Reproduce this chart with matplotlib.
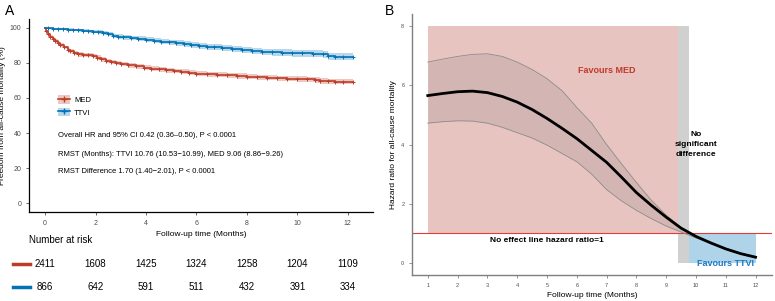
import numpy as np
import matplotlib
matplotlib.use("Agg")
import matplotlib.pyplot as plt
from matplotlib.lines import Line2D
from matplotlib.patches import Patch
from matplotlib.legend_handler import HandlerTuple
import matplotlib.transforms as mtransforms

plt.rcParams['font.family'] = ['Liberation Sans', 'DejaVu Sans']

# ---- Panel A: Kaplan-Meier data ----
red_t = [0, 0.05, 0.1, 0.2, 0.3, 0.4, 0.5, 0.6, 0.75, 0.9,
         1.0, 1.15, 1.3, 1.5, 1.7, 1.9, 2.05, 2.2, 2.4, 2.6,
         2.8, 3.0, 3.3, 3.6, 3.9, 4.2, 4.5, 4.8, 5.1, 5.4,
         5.7, 6.0, 6.4, 6.8, 7.2, 7.6, 8.0, 8.4, 8.8, 9.2,
         9.6, 10.0, 10.4, 10.7, 10.9, 11.2, 11.5, 11.8, 12.2]
red_s = [100, 98.0, 96.5, 95.0, 93.8, 92.6, 91.5, 90.2, 88.8, 87.5,
         86.6, 85.5, 84.8, 84.5, 84.4, 84.0, 83.0, 82.0, 81.2, 80.5,
         79.9, 79.3, 78.6, 78.0, 77.3, 76.8, 76.3, 75.9, 75.4, 74.9,
         74.4, 73.9, 73.5, 73.2, 72.9, 72.6, 72.2, 71.8, 71.5, 71.3,
         71.1, 70.8, 70.6, 70.1, 69.6, 69.4, 69.3, 69.3, 69.3]
red_ci = [0, 0.4, 0.6, 0.8, 0.9, 1.0, 1.0, 1.1, 1.1, 1.2,
          1.2, 1.2, 1.2, 1.2, 1.2, 1.2, 1.3, 1.3, 1.3, 1.3,
          1.3, 1.3, 1.3, 1.3, 1.3, 1.4, 1.4, 1.4, 1.4, 1.4,
          1.4, 1.4, 1.4, 1.5, 1.5, 1.5, 1.5, 1.5, 1.5, 1.5,
          1.5, 1.5, 1.6, 1.6, 1.6, 1.6, 1.6, 1.6, 1.6]

blue_t = [0, 0.1, 0.3, 0.5, 0.7, 0.9, 1.1, 1.3, 1.5, 1.7,
          1.9, 2.1, 2.3, 2.5, 2.7, 2.9, 3.1, 3.4, 3.7, 4.0,
          4.3, 4.6, 4.9, 5.2, 5.5, 5.8, 6.1, 6.4, 6.7, 7.0,
          7.4, 7.8, 8.2, 8.6, 9.0, 9.4, 9.8, 10.2, 10.6, 11.0,
          11.2, 11.5, 11.8, 12.2]
blue_s = [100, 99.8, 99.5, 99.3, 99.1, 99.0, 98.8, 98.6, 98.4, 98.1,
          97.8, 97.5, 97.0, 96.3, 95.5, 95.0, 94.6, 94.2, 93.7, 93.1,
          92.6, 92.2, 91.7, 91.2, 90.7, 90.2, 89.6, 89.2, 88.8, 88.4,
          87.8, 87.2, 86.7, 86.3, 86.0, 85.8, 85.6, 85.4, 85.2, 84.8,
          83.8, 83.6, 83.6, 83.6]
blue_ci = [0, 0.2, 0.4, 0.5, 0.6, 0.7, 0.8, 0.8, 0.9, 0.9,
           1.0, 1.0, 1.1, 1.1, 1.2, 1.2, 1.3, 1.3, 1.4, 1.4,
           1.5, 1.5, 1.5, 1.6, 1.6, 1.6, 1.7, 1.7, 1.7, 1.8,
           1.8, 1.8, 1.9, 1.9, 1.9, 2.0, 2.0, 2.0, 2.1, 2.1,
           2.1, 2.2, 2.2, 2.2]

risk_times = [0, 2, 4, 6, 8, 10, 12]
risk_med = [2411, 1608, 1425, 1324, 1258, 1204, 1109]
risk_ttvi = [866, 642, 591, 511, 432, 391, 334]

# ---- Panel B: hazard ratio over time ----
hr_x = [1.0, 1.5, 2.0, 2.5, 3.0, 3.5, 4.0, 4.5, 5.0, 5.5, 6.0, 6.5,
        7.0, 7.5, 8.0, 8.5, 9.0, 9.5, 10.0, 10.5, 11.0, 11.5, 12.0]
hr_y = [5.65, 5.72, 5.78, 5.80, 5.75, 5.62, 5.43, 5.18, 4.88, 4.55, 4.20, 3.80,
        3.40, 2.90, 2.38, 1.95, 1.55, 1.18, 0.90, 0.68, 0.48, 0.32, 0.20]
hr_hi = [6.78, 6.88, 6.97, 7.04, 7.06, 6.97, 6.78, 6.53, 6.22, 5.82, 5.25, 4.72,
         4.00, 3.35, 2.72, 2.12, 1.62, 1.20, 0.92, 0.70, 0.50, 0.34, 0.22]
hr_lo = [4.72, 4.77, 4.80, 4.79, 4.72, 4.58, 4.40, 4.22, 3.98, 3.70, 3.42, 3.00,
         2.48, 2.10, 1.78, 1.50, 1.25, 1.05, 0.85, 0.66, 0.46, 0.30, 0.18]

RED = '#BC3C29'
BLUE = '#0072B5'
GREY_TXT = '#4D4D4D'

fig = plt.figure(figsize=(7.75, 3.01), dpi=100)

# Panel A
axA = fig.add_axes([0.0374, 0.2957, 0.444, 0.641])
for t, s, ci, col in [(red_t, red_s, red_ci, RED), (blue_t, blue_s, blue_ci, BLUE)]:
    t = np.array(t); s = np.array(s); ci = np.array(ci)
    axA.fill_between(t, s - ci, s + ci, step='post', color=col, alpha=0.28, lw=0)
    axA.step(t, s, where='post', color=col, lw=1.2)
    axA.plot(t[1:], s[1:], ls='none', marker='+', color=col, ms=3, mew=0.7)

axA.set_xlim(-0.64, 13.0)
axA.set_ylim(-5, 105)
axA.set_xticks(risk_times)
axA.set_yticks([0, 20, 40, 60, 80, 100])
axA.tick_params(labelsize=5, colors=GREY_TXT, length=2, width=0.6, labelcolor=GREY_TXT)
for sp in ['top', 'right']:
    axA.spines[sp].set_visible(False)
for sp in ['left', 'bottom']:
    axA.spines[sp].set_linewidth(0.9)
axA.set_xlabel('Follow-up time (Months)', fontsize=6, labelpad=3)
axA.set_ylabel('Freedom from all-cause mortality (%)', fontsize=6, labelpad=3)

h_med = (Patch(color=RED, alpha=0.28, lw=0), Line2D([], [], color=RED, marker='+', lw=1.2, ms=4))
h_ttvi = (Patch(color=BLUE, alpha=0.28, lw=0), Line2D([], [], color=BLUE, marker='+', lw=1.2, ms=4))
axA.legend([h_med, h_ttvi], ['MED', 'TTVI'], handler_map={tuple: HandlerTuple(ndivide=1, pad=0)},
           loc='upper left', bbox_to_anchor=(0.065, 0.64), frameon=False, fontsize=5.5,
           handlelength=1.6, handleheight=1.3, labelspacing=0.5, handletextpad=0.5)

ann_x = 0.0855
axA.text(ann_x, 0.398, 'Overall HR and 95% CI 0.42 (0.36\u20130.50), P < 0.0001',
         transform=axA.transAxes, fontsize=5.5, va='center')
axA.text(ann_x, 0.300, 'RMST (Months): TTVI 10.76 (10.53\u221210.99), MED 9.06 (8.86\u22129.26)',
         transform=axA.transAxes, fontsize=5.5, va='center')
axA.text(ann_x, 0.212, 'RMST Difference 1.70 (1.40\u22122.01), P < 0.0001',
         transform=axA.transAxes, fontsize=5.5, va='center')

# Number at risk table
trans = mtransforms.blended_transform_factory(axA.transData, fig.transFigure)
fig.text(0.0374, 0.203, 'Number at risk', fontsize=7, va='center')
for vals, yy, col in [(risk_med, 0.123, RED), (risk_ttvi, 0.0465, BLUE)]:
    for tt, v in zip(risk_times, vals):
        fig.text(tt, yy, str(v), transform=trans, fontsize=7, ha='center', va='center')
    fig.add_artist(Line2D([13 / 775, 30 / 775], [yy, yy], color=col, lw=2.5,
                          transform=fig.transFigure))

fig.text(0.013, 0.963, 'A', fontsize=10, ha='center', va='center')
fig.text(0.502, 0.963, 'B', fontsize=10, ha='center', va='center')

# Panel B
axB = fig.add_axes([0.5316, 0.0864, 0.4645, 0.867])
axB.fill_between([1, 9.4], 1, 8, color='#E8C4C0', lw=0)
axB.fill_between([9.4, 9.75], 0, 8, color='#D0D0D0', lw=0)
axB.fill_between([9.75, 12], 0, 1, color='#AFD4EA', lw=0)
axB.axhline(1, color='#E8393A', lw=0.8)
axB.fill_between(hr_x, hr_lo, hr_hi, color='#808080', alpha=0.2, lw=0)
axB.plot(hr_x, hr_hi, color='#8C8C8C', lw=0.6)
axB.plot(hr_x, hr_lo, color='#8C8C8C', lw=0.6)
axB.plot(hr_x, hr_y, color='black', lw=2)

axB.text(7.0, 6.5, 'Favours MED', color='#C0392B', fontsize=6.5, fontweight='bold',
         ha='center', va='center')
axB.text(11.0, -0.02, 'Favours TTVI', color='#1F78C1', fontsize=6.5, fontweight='bold',
         ha='center', va='center')
axB.text(10.0, 4.0, 'No\nsignificant\ndifference', fontsize=6, fontweight='bold',
         ha='center', va='center', linespacing=1.6)
axB.text(5.0, 0.78, 'No effect line hazard ratio=1', fontsize=6, fontweight='bold',
         ha='center', va='center')

axB.set_xlim(0.47, 12.55)
axB.set_ylim(-0.4, 8.4)
axB.set_xticks(list(range(1, 13)))
axB.set_yticks([0, 2, 4, 6, 8])
axB.tick_params(labelsize=4, colors='#7F7F7F', length=2, width=0.6, labelcolor=GREY_TXT)
for sp in ['top', 'right']:
    axB.spines[sp].set_visible(False)
for sp in ['left', 'bottom']:
    axB.spines[sp].set_color('#7F7F7F')
    axB.spines[sp].set_linewidth(1.0)
axB.set_xlabel('Follow-up time (Months)', fontsize=6, labelpad=3)
axB.set_ylabel('Hazard ratio for all-cause mortality', fontsize=6, labelpad=3)

fig.savefig('out.png', dpi=100)
